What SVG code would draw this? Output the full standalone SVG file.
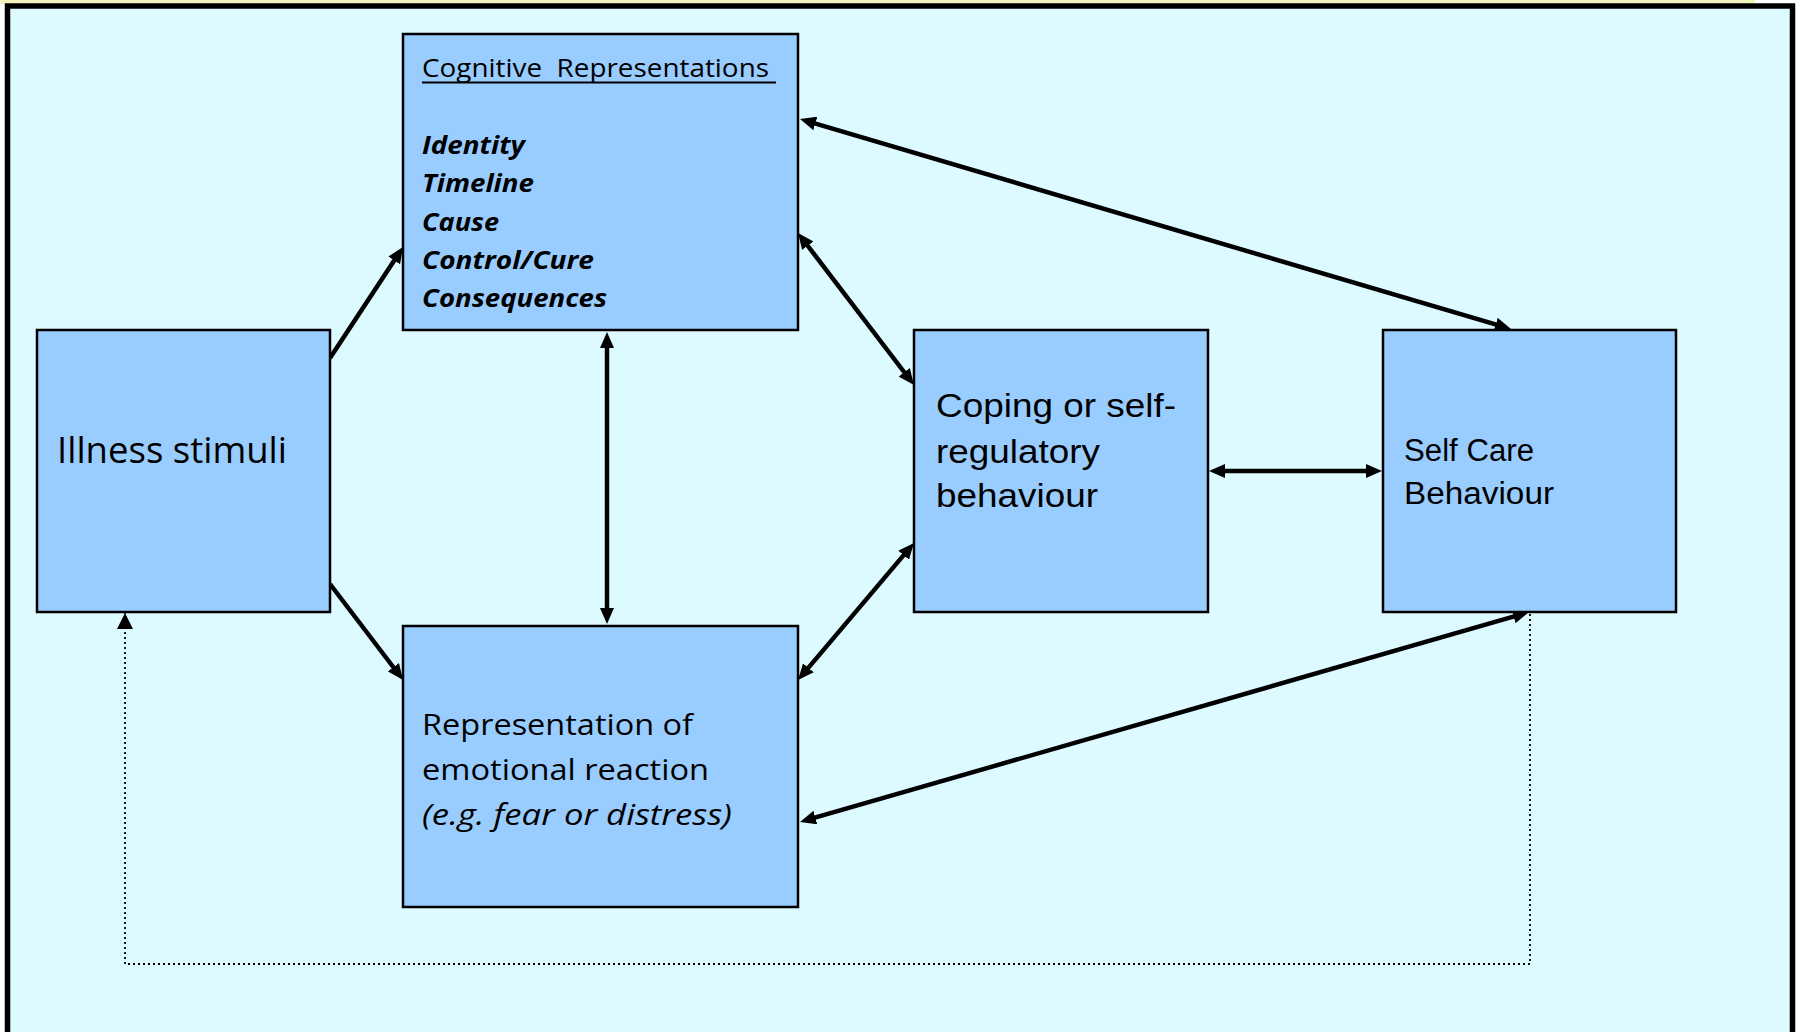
<svg xmlns="http://www.w3.org/2000/svg" width="1800" height="1032" viewBox="0 0 1800 1032">
  <defs>
    <marker id="ah" viewBox="0 0 16 14" refX="6" refY="7" markerWidth="16" markerHeight="14" markerUnits="userSpaceOnUse" orient="auto-start-reverse">
      <path d="M0,0 L16,7 L0,14 z" fill="#000"/>
    </marker>
    <marker id="ahd" viewBox="0 0 16 16" refX="16" refY="8" markerWidth="16" markerHeight="16" markerUnits="userSpaceOnUse" orient="auto">
      <path d="M0,0 L16,8 L0,16 z" fill="#000"/>
    </marker>
    <style>
      .box { fill: #99CCFF; stroke: #000; stroke-width: 2.5; }
      .conn { stroke: #000; stroke-width: 4.5; fill: none; }
      .dot { stroke: #000; stroke-width: 1.8; fill: none; stroke-dasharray: 2 3; }
      .cal { font-family: "Open Sans", "Liberation Sans", sans-serif; fill: #000; }
      .ari { font-family: "Liberation Sans", Arial, sans-serif; fill: #000; }
      .bi { font-weight: bold; font-style: italic; font-size: 25px; }
    </style>
  </defs>

  <rect x="0" y="0" width="1800" height="1032" fill="#FFFFFF"/>
  <rect x="0" y="0" width="1755" height="4" fill="#F2F5BE"/>
  <rect x="7.5" y="6" width="1785" height="1045" fill="#DCFAFF" stroke="#000" stroke-width="5.5"/>

  <g id="connectors">
    <line class="conn" x1="330" y1="358" x2="397.5" y2="255.4" marker-end="url(#ah)"/>
    <line class="conn" x1="330" y1="584" x2="397" y2="672" marker-end="url(#ah)"/>
    <line class="conn" x1="607" y1="342" x2="607" y2="614" marker-start="url(#ah)" marker-end="url(#ah)"/>
    <line class="conn" x1="804.1" y1="241" x2="907.9" y2="377" marker-start="url(#ah)" marker-end="url(#ah)"/>
    <line class="conn" x1="804.5" y1="672.4" x2="907.5" y2="550.6" marker-start="url(#ah)" marker-end="url(#ah)"/>
    <line class="conn" x1="1219" y1="471" x2="1372" y2="471" marker-start="url(#ah)" marker-end="url(#ah)"/>
    <line class="conn" x1="809.6" y1="121.8" x2="1501.4" y2="326.2" marker-start="url(#ah)" marker-end="url(#ah)"/>
    <line class="conn" x1="809.6" y1="819.2" x2="1519.4" y2="614.8" marker-start="url(#ah)" marker-end="url(#ah)"/>
    <path class="dot" d="M1530,614 V964 H125 V613" marker-end="url(#ahd)"/>
  </g>

  <g id="cognitive">
    <rect class="box" x="403" y="34" width="395" height="296"/>
    <text class="cal" x="422" y="77" font-size="26" textLength="347" lengthAdjust="spacingAndGlyphs" style="white-space:pre">Cognitive  Representations</text>
    <line x1="422" y1="82.5" x2="776" y2="82.5" stroke="#000" stroke-width="2"/>
    <text class="cal bi" x="422" y="154" textLength="103" lengthAdjust="spacingAndGlyphs">Identity</text>
    <text class="cal bi" x="422" y="192" textLength="112" lengthAdjust="spacingAndGlyphs">Timeline</text>
    <text class="cal bi" x="422" y="231" textLength="77" lengthAdjust="spacingAndGlyphs">Cause</text>
    <text class="cal bi" x="422" y="269" textLength="172" lengthAdjust="spacingAndGlyphs">Control/Cure</text>
    <text class="cal bi" x="422" y="307" textLength="185" lengthAdjust="spacingAndGlyphs">Consequences</text>
  </g>

  <g id="illness">
    <rect class="box" x="37" y="330" width="293" height="282"/>
    <text class="cal" x="57" y="463" font-size="37" textLength="230" lengthAdjust="spacingAndGlyphs">Illness stimuli</text>
  </g>

  <g id="emotional">
    <rect class="box" x="403" y="626" width="395" height="281"/>
    <text class="cal" x="422" y="735" font-size="30" textLength="271" lengthAdjust="spacingAndGlyphs">Representation of</text>
    <text class="cal" x="422" y="780" font-size="30" textLength="287" lengthAdjust="spacingAndGlyphs">emotional reaction</text>
    <text class="cal" x="422" y="825" font-size="30" font-style="italic" textLength="310" lengthAdjust="spacingAndGlyphs">(e.g. fear or distress)</text>
  </g>

  <g id="coping">
    <rect class="box" x="914" y="330" width="294" height="282"/>
    <text class="ari" x="936" y="417" font-size="34" textLength="240" lengthAdjust="spacingAndGlyphs">Coping or self-</text>
    <text class="ari" x="936" y="463" font-size="34" textLength="164" lengthAdjust="spacingAndGlyphs">regulatory</text>
    <text class="ari" x="936" y="507" font-size="34" textLength="162" lengthAdjust="spacingAndGlyphs">behaviour</text>
  </g>

  <g id="selfcare">
    <rect class="box" x="1383" y="330" width="293" height="282"/>
    <text class="ari" x="1404" y="461" font-size="31" textLength="130" lengthAdjust="spacingAndGlyphs">Self Care</text>
    <text class="ari" x="1404" y="504" font-size="31" textLength="150" lengthAdjust="spacingAndGlyphs">Behaviour</text>
  </g>
</svg>
